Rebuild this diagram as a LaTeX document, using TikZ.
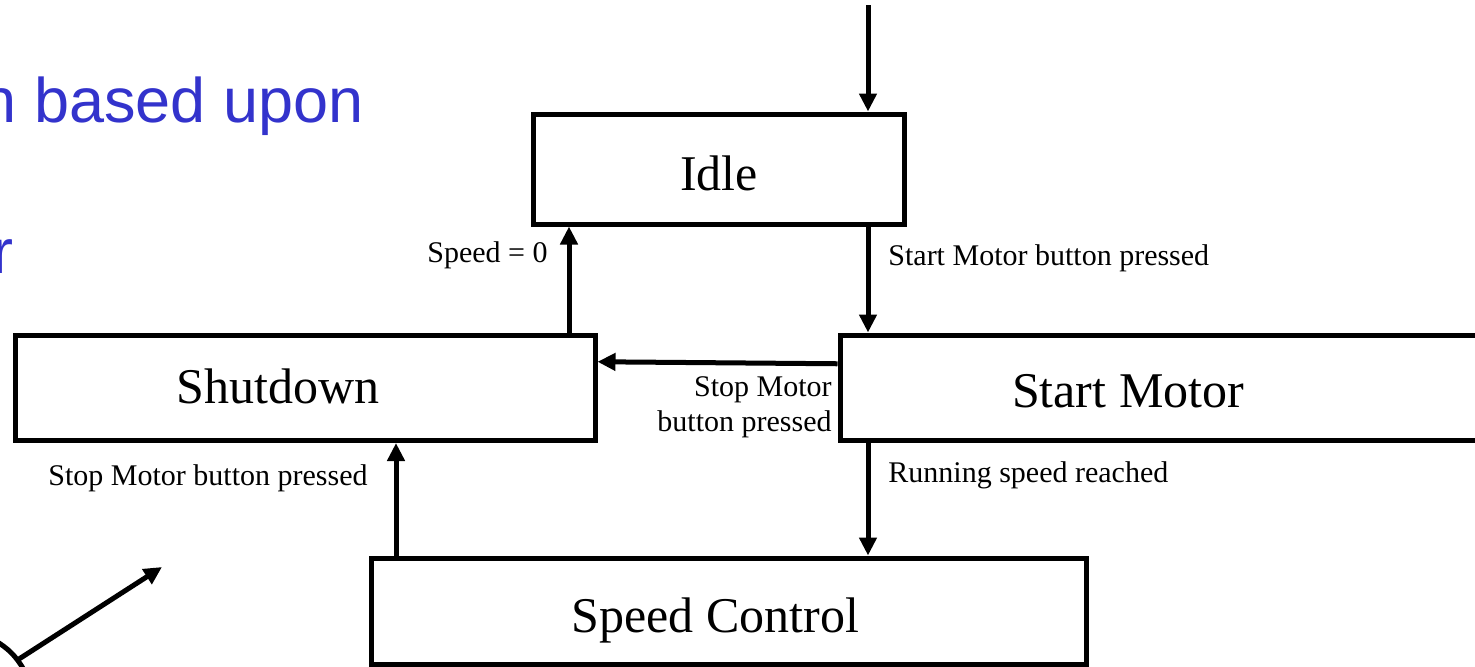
\documentclass[tikz,border=0pt]{standalone}
\usepackage{fontspec}
\setmainfont{Liberation Serif}
\newfontfamily\slidefont{Liberation Sans}
\usetikzlibrary{arrows.meta}
\definecolor{slideblue}{RGB}{51,51,204}
\tikzset{
  statebox/.style={draw,line width=2.5pt,rectangle,inner sep=0pt},
  statetxt/.style={inner sep=0pt,anchor=base,font=\fontsize{25}{30}\selectfont},
  trans/.style={inner sep=0pt,font=\fontsize{15}{17.5}\selectfont},
  arr/.style={line width=2.5pt,-{Triangle[length=9pt,width=8.5pt]}}
}
\begin{document}
\begin{tikzpicture}[x=0.5pt,y=-0.5pt]
  \useasboundingbox (0,0) rectangle (1475,666);
  % 1. slide text behind the diagram (cut off at the left)
  \node[inner sep=0pt,anchor=base east,text=slideblue,
    font=\fontsize{31.5}{36}\slidefont] (line1) at (364,122) {n based upon};
  \node[inner sep=0pt,anchor=base east,text=slideblue,
    font=\fontsize{31.5}{36}\slidefont] (line2) at (14,273) {r};
  % 2. the state boxes
  \node[statebox,minimum width=185.25pt,minimum height=55pt] (idle) at (719,169) {};
  \node[statebox,minimum width=289.75pt,minimum height=52.75pt] (shutdown) at (305.25,387.75) {};
  \node[statebox,minimum width=330pt,minimum height=52.75pt] (start) at (1170,387.75) {};
  \node[statebox,minimum width=357.5pt,minimum height=53pt] (speed) at (728.5,611) {};
  % their names
  \node[statetxt] (idle-t) at (719,190) {Idle};
  \node[statetxt] (shutdown-t) at (278,403) {Shutdown};
  \node[statetxt] (start-t) at (1128,407) {Start Motor};
  \node[statetxt] (speed-t) at (715.5,632) {Speed Control};
  % 3. columns of the vertical transitions
  \coordinate (init) at (868,5);
  \coordinate (colA) at (569,0);
  \coordinate (colB) at (396,0);
  % 4. transitions
  \draw[arr] (init) -- (init |- idle.north);
  \draw[arr] (idle.south -| init) -- (start.north -| init);
  \draw[arr] (start.south -| init) -- (speed.north -| init);
  \draw[arr] (shutdown.north -| colA) -- (idle.south -| colA);
  \draw[arr] (speed.north -| colB) -- (shutdown.south -| colB);
  \draw[arr] ([yshift=12pt]start.west) -- ([yshift=13pt]shutdown.east);
  % transition labels
  \node[trans,anchor=base east] (lbl-zero) at (548,262) {Speed = 0};
  \node[trans,anchor=base west] (lbl-start) at (888,265) {Start Motor button pressed};
  \node[trans,anchor=east,align=right] (lbl-stop1) at (832,407.5) {Stop Motor\\button pressed};
  \node[trans,anchor=base west] (lbl-run) at (888,482) {Running speed reached};
  \node[trans,anchor=base west] (lbl-stop2) at (48,485) {Stop Motor button pressed};
  % 5. stray arrow in the bottom left corner
  \coordinate (tail) at (19,659);
  \coordinate (head) at (162,567);
  \draw[arr] (tail) -- (head);
  \draw[line width=2.5pt] (-6,640) .. controls (8,648) and (16,656) .. (24,670);
\end{tikzpicture}
\end{document}
